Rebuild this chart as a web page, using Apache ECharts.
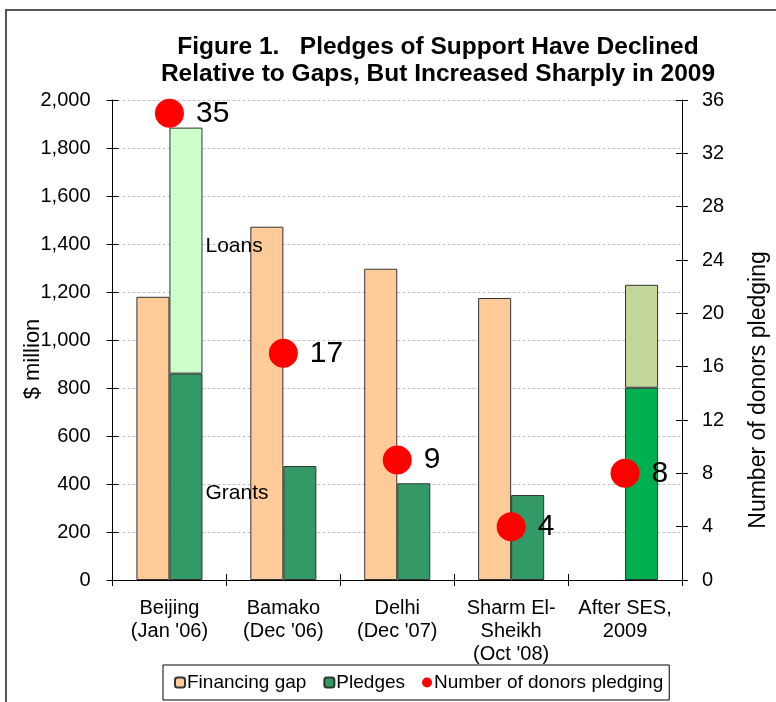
<!DOCTYPE html>
<html><head><meta charset="utf-8">
<script src="https://cdn.jsdelivr.net/npm/echarts@6/dist/echarts.min.js"></script>
<style>html,body{margin:0;padding:0;background:#fff}#c{width:776px;height:702px}</style>
</head><body><div id="c"></div>
<script>
const categories = ["Beijing\n(Jan '06)", "Bamako\n(Dec '06)", "Delhi\n(Dec '07)", "Sharm El-\nSheikh\n(Oct '08)", "After SES,\n2009"];
const financingGap = [1180, 1472, 1297, 1175, null];
const grants = [860, 475, 403, 354, 801];
const loans = [1025, null, null, null, 429];
const donors = [35, 17, 9, 4, 8];
const leftTicks = [0, 2000, 200];
const rightTicks = [0, 36, 4];

const FONT = 'Liberation Sans, Arial, sans-serif';
const chart = echarts.init(document.getElementById('c'), null, {renderer: 'canvas'});
const fmt = v => v.toString().replace(/\B(?=(\d{3})+(?!\d))/g, ',');
const tickOnly = (extra) => Object.assign({
  axisLine: {show: false},
  axisTick: {show: true, inside: true, length: 6, lineStyle: {color: '#000'}},
  axisLabel: {show: false},
  splitLine: {show: false}
}, extra);

chart.setOption({
  animation: false,
  textStyle: {fontFamily: FONT, color: '#000'},
  title: {
    text: 'Figure 1.   Pledges of Support Have Declined\nRelative to Gaps, But Increased Sharply in 2009',
    left: 433, top: 29, textAlign: 'center',
    textStyle: {fontFamily: FONT, fontWeight: 'bold', fontSize: 24.5, lineHeight: 27, color: '#000'}
  },
  graphic: [
    {type: 'rect', shape: {x: 6, y: 10, width: 820, height: 760}, style: {fill: 'none', stroke: '#555', lineWidth: 2}, z: -10},
    {type: 'text', x: 33, y: 359, rotation: Math.PI / 2, style: {text: '$ million', font: '22px ' + FONT, fill: '#000', textAlign: 'center', textVerticalAlign: 'middle'}},
    {type: 'text', x: 759, y: 390, rotation: Math.PI / 2, style: {text: 'Number of donors pledging', font: '23px ' + FONT, fill: '#000', textAlign: 'center', textVerticalAlign: 'middle'}}
  ],
  legend: {
    left: 163, bottom: 2,
    data: ['Financing gap', 'Pledges', 'Number of donors pledging'],
    itemWidth: 10, itemHeight: 10, itemGap: 17,
    borderColor: '#000', borderWidth: 1, padding: [8, 6, 8, 11],
    textStyle: {fontFamily: FONT, fontSize: 19, color: '#000', padding: [0, 0, 0, -3]}
  },
  grid: {left: 112.5, right: 94, top: 100, bottom: 122},
  xAxis: [
    {type: 'category', data: categories, position: 'bottom',
     axisLine: {lineStyle: {color: '#000'}},
     axisTick: {show: true, length: 6, lineStyle: {color: '#000'}},
     axisLabel: {fontFamily: FONT, fontSize: 20, color: '#000', lineHeight: 23, margin: 17, interval: 0}},
    tickOnly({type: 'category', data: categories, position: 'bottom'})
  ],
  yAxis: [
    {type: 'value', min: leftTicks[0], max: leftTicks[1], interval: leftTicks[2], position: 'left',
     axisLine: {show: true, lineStyle: {color: '#000'}},
     axisTick: {show: true, length: 6, lineStyle: {color: '#000'}},
     axisLabel: {fontFamily: FONT, fontSize: 20, color: '#000', margin: 22, formatter: fmt},
     splitLine: {show: true, lineStyle: {color: '#c0c0c0', type: [3, 2]}}},
    {type: 'value', min: rightTicks[0], max: rightTicks[1], interval: rightTicks[2], position: 'right',
     axisLine: {show: true, lineStyle: {color: '#000'}},
     axisTick: {show: true, length: 6, lineStyle: {color: '#000'}},
     axisLabel: {fontFamily: FONT, fontSize: 20, color: '#000', margin: 20},
     splitLine: {show: false}},
    tickOnly({type: 'value', min: leftTicks[0], max: leftTicks[1], interval: leftTicks[2], position: 'left'}),
    tickOnly({type: 'value', min: rightTicks[0], max: rightTicks[1], interval: rightTicks[2], position: 'right'})
  ],
  series: [
    {name: 'Financing gap', type: 'bar', data: financingGap, barWidth: '29%', barGap: '0%',
     itemStyle: {color: '#FFCC99', borderColor: '#333', borderWidth: 1}},
    {name: 'Pledges', type: 'bar', stack: 'p', barWidth: '29%',
     data: grants.map((v, i) => i === 4 ? {value: v, itemStyle: {color: '#00B050'}} :
       i === 0 ? {value: v, label: {show: true, formatter: 'Grants', position: 'right', distance: 3, offset: [0, 16], fontFamily: FONT, fontSize: 21, color: '#000'}} : v),
     itemStyle: {color: '#339966', borderColor: '#333', borderWidth: 1}},
    {name: 'Loans', type: 'bar', stack: 'p', barWidth: '29%',
     data: loans.map((v, i) => i === 4 ? {value: v, itemStyle: {color: '#C4D79B'}} :
       i === 0 ? {value: v, label: {show: true, formatter: 'Loans', position: 'right', distance: 3, offset: [0, -4], fontFamily: FONT, fontSize: 21, color: '#000'}} : v),
     itemStyle: {color: '#CCFFCC', borderColor: '#333', borderWidth: 1}},
    {name: 'Number of donors pledging', type: 'scatter', yAxisIndex: 1, data: donors,
     symbol: 'circle', symbolSize: 29, z: 5,
     itemStyle: {color: '#FF0000', opacity: 1},
     label: {show: true, position: 'right', distance: 12, fontFamily: FONT, fontSize: 30, color: '#000'}}
  ]
});
</script></body></html>
